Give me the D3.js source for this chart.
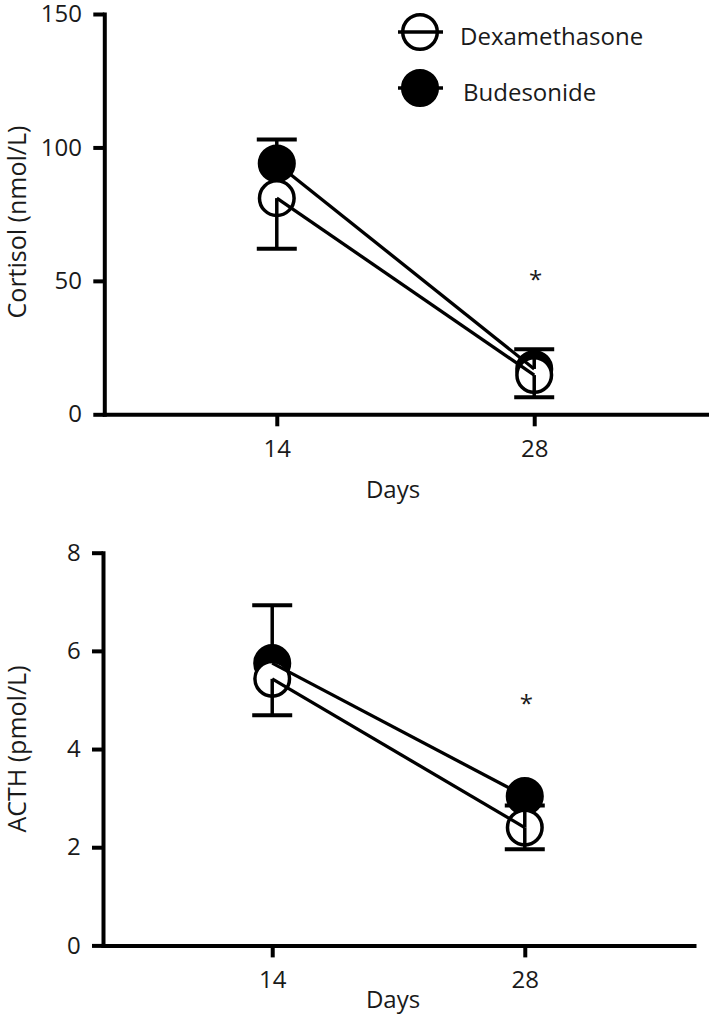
<!DOCTYPE html>
<html><head><meta charset="utf-8">
<script src="https://cdn.jsdelivr.net/npm/d3@7"></script>
<style>
body{margin:0;background:#fff}
svg{display:block}
text{font-family:"Open Sans",sans-serif;fill:#1a1a1a}
</style>
</head><body>
<script>
// ---------- data ----------
const days = ["14", "28"];
const seriesNames = ["Dexamethasone", "Budesonide"];

const cortisolDex = [81, 14.7];
const cortisolBud = [94, 17];
const cortisolDexErrUp = [0, 0];
const cortisolDexErrDown = [19, 8.3];
const cortisolBudErrUp = [9, 7.4];
const cortisolBudErrDown = [0, 0];
const cortisolTicks = [0, 50, 100, 150];
const cortisolStars = [{ day: "28", value: 52 }];

const acthDex = [5.43, 2.40];
const acthBud = [5.75, 3.04];
const acthDexErrUp = [0, 0.45];
const acthDexErrDown = [0.74, 0.44];
const acthBudErrUp = [1.18, 0];
const acthBudErrDown = [0, 0];
const acthTicks = [0, 2, 4, 6, 8];
const acthStars = [{ day: "28", value: 5.0 }];

// ---------- layout ----------
const W = 709, H = 1019;
const svg = d3.select("body").append("svg").attr("width", W).attr("height", H);

const panels = [
  {
    title: "Cortisol (nmol/L)", ticks: cortisolTicks, yMax: 150,
    xRange: [104.3, 706.7], yRange: [414.3, 14], titleY: 222, daysY: 498,
    dex: cortisolDex, bud: cortisolBud,
    dexUp: cortisolDexErrUp, dexDown: cortisolDexErrDown,
    budUp: cortisolBudErrUp, budDown: cortisolBudErrDown,
    stars: cortisolStars, legend: true
  },
  {
    title: "ACTH (pmol/L)", ticks: acthTicks, yMax: 8,
    xRange: [103, 694], yRange: [945.4, 552.7], titleY: 749, daysY: 1008,
    dex: acthDex, bud: acthBud,
    dexUp: acthDexErrUp, dexDown: acthDexErrDown,
    budUp: acthBudErrUp, budDown: acthBudErrDown,
    stars: acthStars, legend: false
  }
];

const AX_W = 4, LINE_W = 3.3, MARK_W = 3.5, R = 17.3, CAP = 20;

panels.forEach(p => {
  const x = d3.scalePoint().domain(days).range(p.xRange).padding(0.67);
  const y = d3.scaleLinear().domain([0, p.yMax]).range(p.yRange);
  const g = svg.append("g");

  // axes
  const yAx = g.append("g").attr("transform", `translate(${p.xRange[0]},0)`)
    .call(d3.axisLeft(y).tickValues(p.ticks).tickSize(11).tickSizeOuter(0).tickPadding(11.3));
  const xAx = g.append("g").attr("transform", `translate(0,${p.yRange[0]})`)
    .call(d3.axisBottom(x).tickSize(12).tickSizeOuter(0).tickPadding(13.7));
  [yAx, xAx].forEach(a => {
    a.select(".domain").attr("stroke", "#000").attr("stroke-width", AX_W).attr("stroke-linecap", "square");
    a.selectAll(".tick line").attr("stroke", "#000").attr("stroke-width", AX_W);
    a.selectAll(".tick text").attr("font-size", 24).attr("font-family", "Open Sans").attr("fill", "#1a1a1a");
  });

  // titles
  g.append("text")
    .attr("transform", `translate(26,${p.titleY}) rotate(-90)`)
    .attr("text-anchor", "middle").attr("font-size", 25).text(p.title);
  g.append("text").attr("x", 393).attr("y", p.daysY)
    .attr("text-anchor", "middle").attr("font-size", 24).text("Days");

  const dexPts = days.map((d, i) => ({ d, v: p.dex[i], up: p.dexUp[i], down: p.dexDown[i] }));
  const budPts = days.map((d, i) => ({ d, v: p.bud[i], up: p.budUp[i], down: p.budDown[i] }));

  // markers: Budesonide filled, Dexamethasone open (white interior)
  g.selectAll(null).data(budPts).join("circle")
    .attr("cx", d => x(d.d)).attr("cy", d => y(d.v)).attr("r", R)
    .attr("fill", "#000").attr("stroke", "#000").attr("stroke-width", MARK_W);
  g.selectAll(null).data(dexPts).join("circle")
    .attr("cx", d => x(d.d)).attr("cy", d => y(d.v)).attr("r", R)
    .attr("fill", "#fff").attr("stroke", "#000").attr("stroke-width", MARK_W);

  // connecting lines
  const line = d3.line().x(d => x(d.d)).y(d => y(d.v));
  [dexPts, budPts].forEach(pts => {
    g.append("path").attr("d", line(pts)).attr("fill", "none")
      .attr("stroke", "#000").attr("stroke-width", LINE_W);
  });

  // error bars
  [...budPts, ...dexPts].forEach(pt => {
    const cx = x(pt.d);
    [[pt.up, 1], [pt.down, -1]].forEach(([e, s]) => {
      if (!e) return;
      const yEnd = y(pt.v + s * e);
      g.append("line").attr("x1", cx).attr("x2", cx).attr("y1", y(pt.v)).attr("y2", yEnd)
        .attr("stroke", "#000").attr("stroke-width", MARK_W);
      g.append("line").attr("x1", cx - CAP).attr("x2", cx + CAP).attr("y1", yEnd).attr("y2", yEnd)
        .attr("stroke", "#000").attr("stroke-width", AX_W);
    });
  });

  // significance stars
  g.selectAll(null).data(p.stars).join("text")
    .attr("x", d => x(d.day) + 1.5).attr("y", d => y(d.value) + 12)
    .attr("text-anchor", "middle").attr("font-size", 24).text("*");

  // legend
  if (p.legend) {
    const lg = svg.append("g");
    const items = [
      { name: seriesNames[0], fill: "#fff", cy: 32, tx: 460 },
      { name: seriesNames[1], fill: "#000", cy: 88, tx: 463 }
    ];
    items.forEach(it => {
      lg.append("circle").attr("cx", 420).attr("cy", it.cy).attr("r", R)
        .attr("fill", it.fill).attr("stroke", "#000").attr("stroke-width", MARK_W);
      lg.append("line").attr("x1", 398).attr("x2", 443).attr("y1", it.cy).attr("y2", it.cy)
        .attr("stroke", "#000").attr("stroke-width", LINE_W);
      lg.append("text").attr("x", it.tx).attr("y", it.cy + 13)
        .attr("font-size", 24).text(it.name);
    });
  }
});
</script>
</body></html>
